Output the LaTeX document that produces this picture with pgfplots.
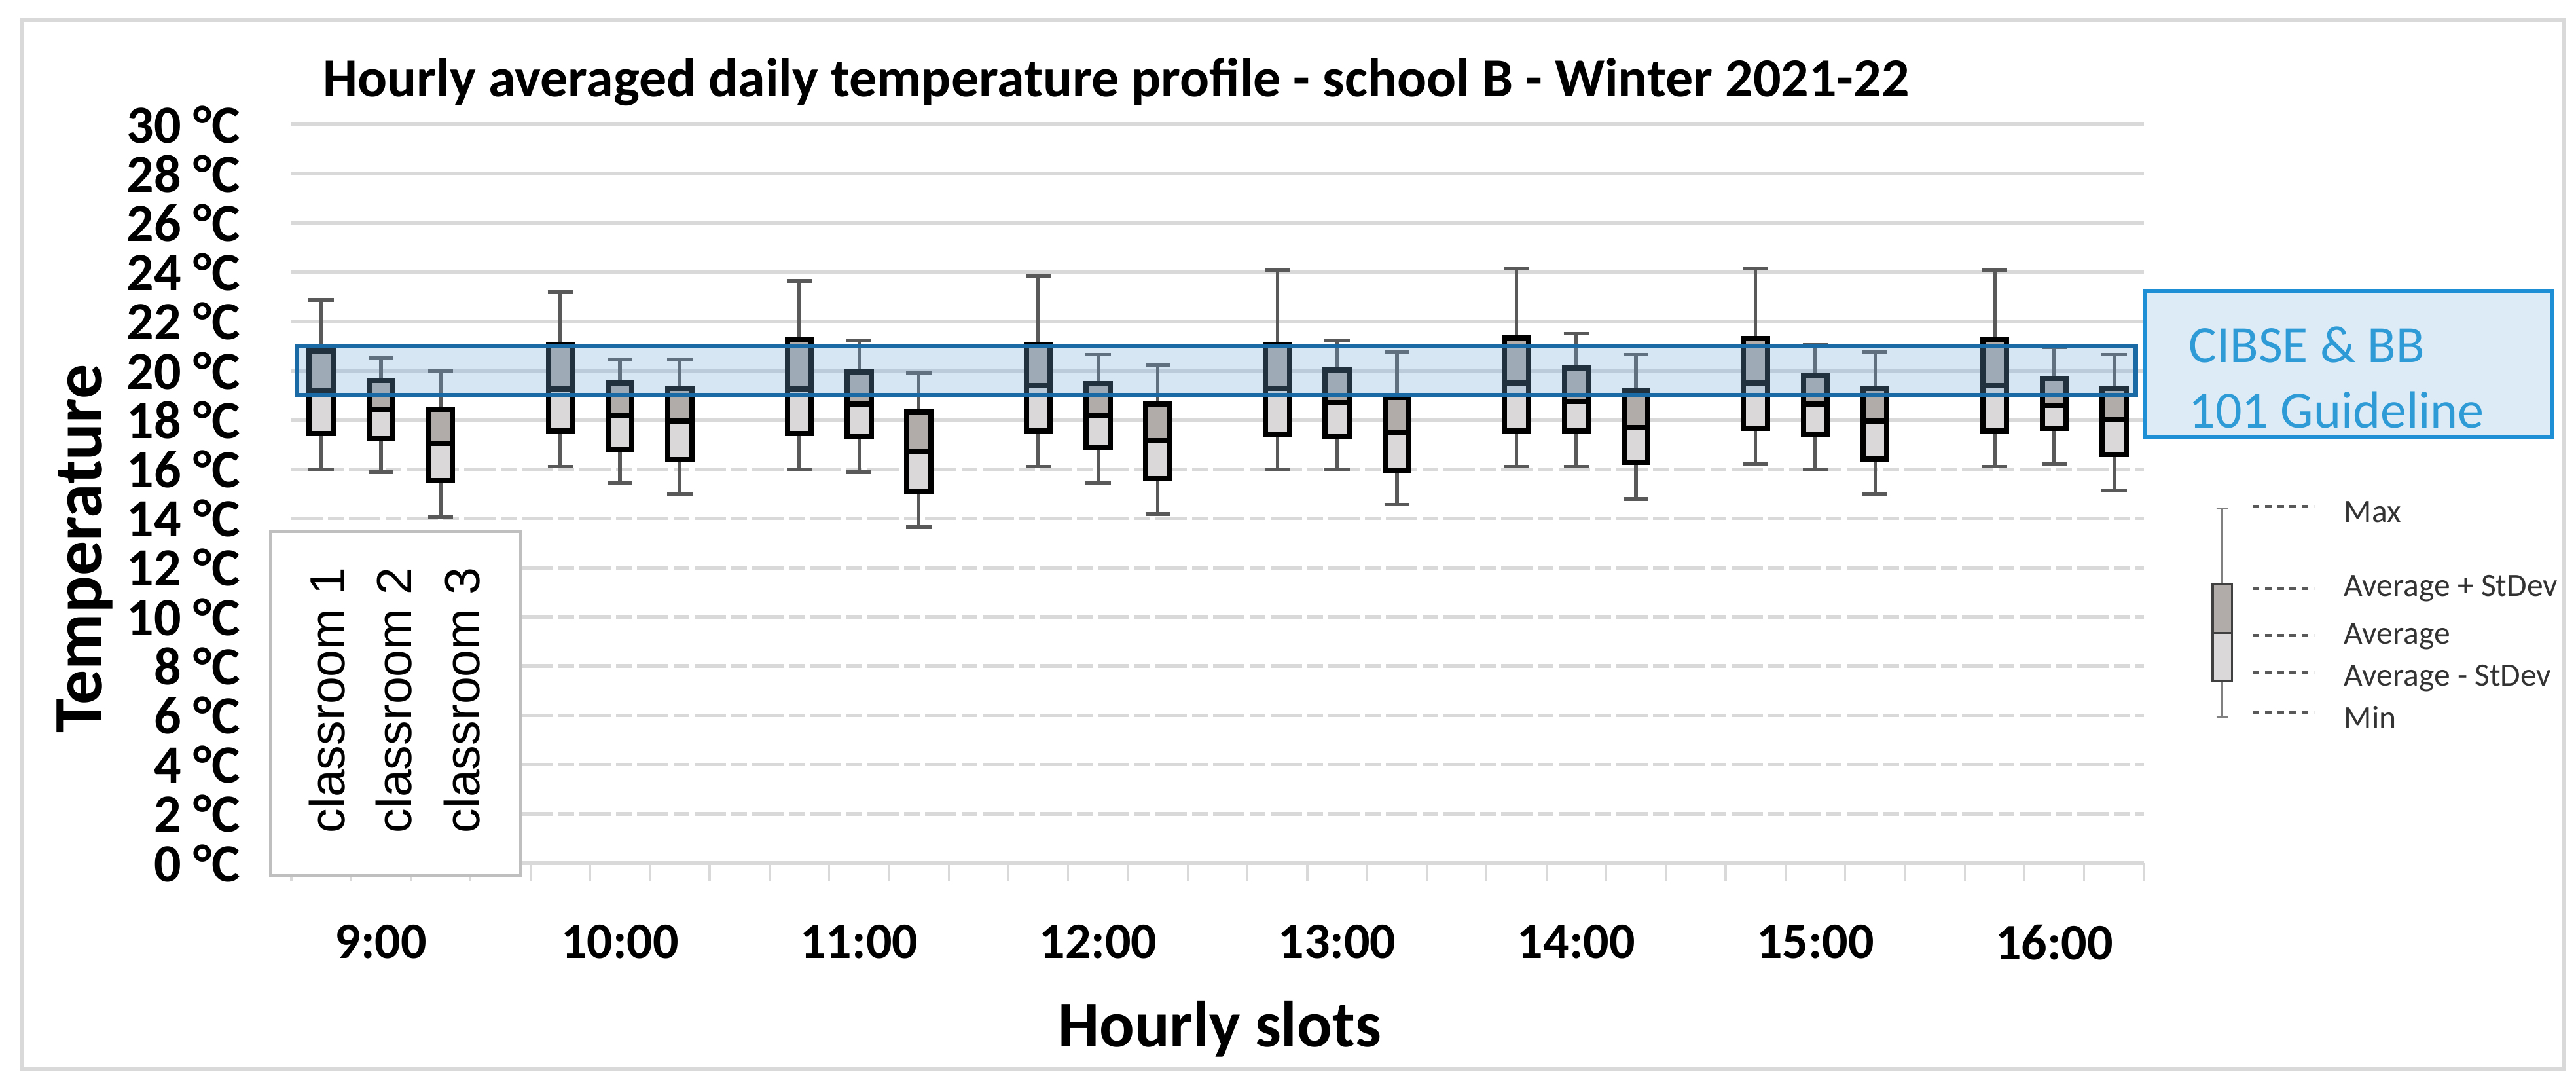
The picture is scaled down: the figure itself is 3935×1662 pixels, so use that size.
\documentclass[border=0pt]{standalone}
\usepackage{pgfplots}
\pgfplotsset{compat=1.18}
\usepackage{pgfplotstable}
\usepgfplotslibrary{statistics}
\usepackage{fontspec}
\setmainfont{Carlito}
\newfontfamily\arialf{Liberation Sans}

\definecolor{gridc}{HTML}{D9D9D9}
\definecolor{whisk}{HTML}{595959}
\definecolor{upfill}{HTML}{B1ACAA}
\definecolor{lowfill}{HTML}{DAD8D8}
\definecolor{bandline}{HTML}{1A6AA6}
\definecolor{bandfill}{HTML}{72A9D9}
\definecolor{notefill}{HTML}{DDEBF7}
\definecolor{noteline}{HTML}{1E8FD5}
\definecolor{notetext}{HTML}{2E9BD6}
\definecolor{boxline}{HTML}{BFBFBF}

% min, avg-sd, avg, avg+sd, max ; rows = 9:00 c1,c2,c3, 10:00 c1,...
\pgfplotstableread{
mn    lo    av    hi    mx
16.00 17.45 19.18 20.80 22.87
15.88 17.23 18.43 19.60 20.53
14.04 15.53 17.05 18.43 20.00
16.10 17.55 19.25 21.05 23.19
15.45 16.80 18.20 19.50 20.45
15.00 16.38 17.95 19.28 20.45
16.00 17.45 19.25 21.25 23.64
15.88 17.34 18.65 19.94 21.22
13.64 15.10 16.72 18.32 19.92
16.10 17.55 19.38 21.05 23.86
15.45 16.90 18.20 19.47 20.66
14.18 15.60 17.15 18.65 20.24
16.00 17.42 19.27 21.05 24.07
16.00 17.32 18.70 20.03 21.22
14.57 15.96 17.47 18.90 20.77
16.10 17.55 19.50 21.33 24.17
16.10 17.55 18.75 20.10 21.50
14.79 16.28 17.69 19.18 20.66
16.20 17.66 19.50 21.30 24.17
16.00 17.42 18.65 19.80 21.05
15.00 16.40 17.95 19.28 20.77
16.10 17.55 19.40 21.25 24.07
16.20 17.66 18.60 19.68 20.95
15.13 16.60 18.00 19.28 20.66
}\temps

\begin{document}
\begin{tikzpicture}
\begin{scope}[x=0.25pt,y=-0.25pt]
  \useasboundingbox (0,0) rectangle (3935,1662);
  \fill[white] (0,0) rectangle (3935,1662);
  \draw[gridc, line width=1.3pt] (33,30) rectangle (3917,1633);
\end{scope}

\begin{axis}[
  at={(111.25pt,-329.5pt)}, anchor=south west,
  scale only axis, width=707.5pt, height=282pt,
  xmin=-0.5, xmax=30.5, ymin=0, ymax=30,
  clip=false,
  boxplot/draw direction=y,
  axis x line*=bottom, axis y line*=left,
  x axis line style={draw=gridc, line width=1.3pt},
  y axis line style={draw=none},
  ytick style={draw=none},
  xtick align=outside,
  xtick style={draw=gridc, line width=0.8pt},
  major tick length=6.75pt,
  xtick={-0.5,0.5,...,30.5},
  xticklabels={},
  extra x ticks={1,5,9,13,17,21,25,29},
  extra x tick labels={9:00,10:00,11:00,12:00,13:00,14:00,15:00,16:00},
  extra x tick style={major tick length=0pt, tick style={draw=none}},
  x tick label style={font=\bfseries\fontsize{19.5}{23}\selectfont, yshift=-20pt},
  ytick={0,18,20,22,24,26,28,30},
  yticklabels={0 °C,18 °C,20 °C,22 °C,24 °C,26 °C,28 °C,30 °C},
  extra y ticks={2,4,6,8,10,12,14,16},
  extra y tick labels={2 °C,4 °C,6 °C,8 °C,10 °C,12 °C,14 °C,16 °C},
  extra y tick style={grid=major, major grid style={draw=gridc, line width=1.4pt, dash pattern=on 12pt off 2pt on 6pt off 2pt}},
  y tick label style={font=\bfseries\fontsize{20.5}{24}\selectfont, xshift=-16pt},
  ymajorgrids,
  major grid style={draw=gridc, line width=1.4pt},
]
\pgfplotsinvokeforeach{0,...,23}{
  \pgfplotstablegetelem{#1}{mn}\of\temps \let\vmn\pgfplotsretval
  \pgfplotstablegetelem{#1}{lo}\of\temps \let\vlo\pgfplotsretval
  \pgfplotstablegetelem{#1}{av}\of\temps \let\vav\pgfplotsretval
  \pgfplotstablegetelem{#1}{hi}\of\temps \let\vhi\pgfplotsretval
  \pgfplotstablegetelem{#1}{mx}\of\temps \let\vmx\pgfplotsretval
  \pgfmathtruncatemacro\vpos{4*floor(#1/3)+mod(#1,3)}
  \edef\doplot{%
    \noexpand\addplot[draw=black, fill=upfill, line width=2pt,
      boxplot prepared={draw position=\vpos,
        lower whisker=\vmn, lower quartile=\vlo, median=\vav,
        upper quartile=\vhi, upper whisker=\vmx,
        box extend=0.40, whisker extend=0.42,
        every whisker/.style={draw=whisk, line width=1.35pt}}] coordinates {};
    \noexpand\addplot[draw=black, fill=lowfill, line width=2pt,
      boxplot prepared={draw position=\vpos,
        lower whisker=\vlo, lower quartile=\vlo, median=\vav,
        upper quartile=\vav, upper whisker=\vav,
        box extend=0.40, every whisker/.style={draw=none}}] coordinates {};
  }%
  \doplot
}
% guideline band 19-21 C
\addplot[draw=bandline, line width=1.7pt, fill=bandfill, fill opacity=0.29]
  coordinates {(-0.41,19) (30.36,19) (30.36,21) (-0.41,21)} -- cycle;
% key glyph
\addplot[draw=black!75, fill=upfill, line width=0.8pt,
  boxplot prepared={draw position=31.81, lower whisker=5.93, lower quartile=7.39,
    median=9.34, upper quartile=11.33, upper whisker=14.39,
    box extend=0.32, whisker extend=0.2,
    every whisker/.style={draw=gray, line width=0.6pt}}] coordinates {};
\addplot[draw=black!75, fill=lowfill, line width=0.8pt,
  boxplot prepared={draw position=31.81, lower whisker=7.39, lower quartile=7.39,
    median=9.34, upper quartile=9.34, upper whisker=9.34,
    box extend=0.32, every whisker/.style={draw=none}}] coordinates {};
\end{axis}

\begin{scope}[x=0.25pt,y=-0.25pt]
  \node[anchor=base, inner sep=0, font=\bfseries\fontsize{21}{25}\selectfont] at (1705,147)
    {Hourly averaged daily temperature profile - school B - Winter 2021-22};
  \node[anchor=base, rotate=90, inner sep=0, font=\bfseries\fontsize{26.5}{31}\selectfont] at (155,838) {Temperature};
  \node[anchor=base, inner sep=0, font=\bfseries\fontsize{25}{30}\selectfont] at (1863,1598) {Hourly slots};
  % classroom key
  \draw[boxline, line width=1.2pt, fill=white] (413,812) rectangle (795,1337);
  \foreach \i/\xx in {1/526,2/628,3/732}
    \node[anchor=base west, rotate=90, inner sep=0, font=\arialf\fontsize{18.8}{22}\selectfont] at (\xx,1273) {classroom \i};
  % guideline note
  \draw[noteline, line width=1.5pt, fill=notefill] (3277,445) rectangle (3898,667);
  \node[anchor=base west, inner sep=0, text=notetext, font=\fontsize{20}{24}\selectfont] at (3343,553) {CIBSE \& BB};
  \node[anchor=base west, inner sep=0, text=notetext, font=\fontsize{20}{24}\selectfont] at (3343,653) {101 Guideline};
  % key labels
  \foreach \yy/\lab/\bl in {773/Max/797, 899/Average + StDev/910, 970/Average/983, 1027/Average - StDev/1047, 1088/Min/1112} {
    \draw[whisk, line width=0.8pt, dash pattern=on 2.5pt off 2.2pt] (3441,\yy) -- (3535,\yy);
    \node[anchor=base west, inner sep=0, text=black!80, font=\fontsize{12.4}{15}\selectfont] at (3580,\bl) {\lab};
  }
\end{scope}
\end{tikzpicture}
\end{document}
